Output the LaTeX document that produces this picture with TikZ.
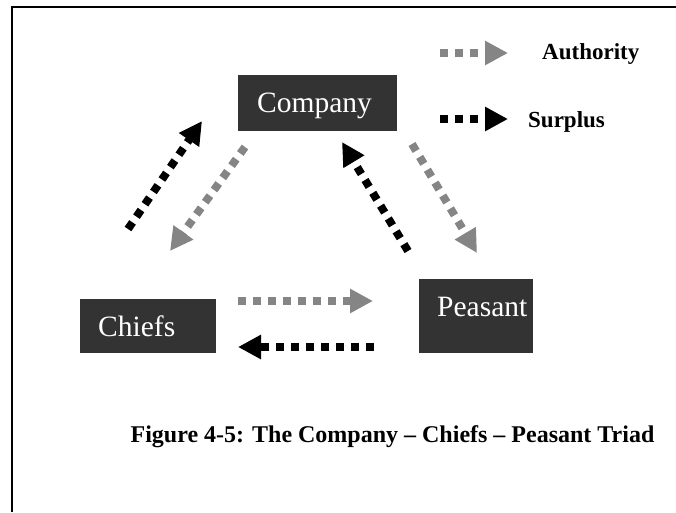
\documentclass[tikz,border=0pt]{standalone}
\usepackage{fontspec}
\setmainfont{Liberation Serif}
\usetikzlibrary{arrows.meta}
\definecolor{boxfill}{HTML}{333333}
\definecolor{authgray}{HTML}{858585}
\tikzset{
  box/.style={fill=boxfill, draw=none, inner sep=0pt},
  boxtext/.style={text=white, font=\fontsize{29.5}{32}\selectfont, inner sep=0pt, anchor=base west},
  flow/.style={line width=8pt, dash pattern=on 8pt off 7pt, line cap=butt,
    -{Triangle[length=23pt,width=23pt]}},
  authority/.style={flow, draw=authgray},
  surplus/.style={flow, draw=black},
  legtext/.style={font=\bfseries\fontsize{23}{26}\selectfont, inner sep=0pt, anchor=base west},
}
\begin{document}
\begin{tikzpicture}[x=1pt,y=-1pt]
\useasboundingbox (0,0) rectangle (676,512);
% frame (top and left only)
\draw[line width=1.6pt] (676,7) -- (12,7) -- (12,512);

% boxes
\node[box, minimum width=159pt, minimum height=56pt] (company) at (317.5,103) {};
\node[boxtext] (companytxt) at (257,112) {Company};
\node[box, minimum width=114pt, minimum height=74pt] (peasant) at (476,316) {};
\node[boxtext] (peasanttxt) at (437,316) {Peasant};
\node[box, minimum width=136pt, minimum height=54pt] (chiefs) at (148,326) {};
\node[boxtext] (chiefstxt) at (98,336) {Chiefs};

% arrow end points
\coordinate (s1) at (128,229);  \coordinate (e1) at (202,121);
\coordinate (s2) at (245,147);  \coordinate (e2) at (170,251);
\coordinate (s3) at (408,251);  \coordinate (e3) at (342,142);
\coordinate (s4) at (412,144);  \coordinate (e4) at (477,253);
\coordinate (s5) at (238,301);  \coordinate (e5) at (373,301);
\coordinate (s6) at (374,347);  \coordinate (e6) at (238,347);

\draw[surplus] (s1) -- (e1);
\draw[authority] (s2) -- (e2);
\draw[surplus] (s3) -- (e3);
\draw[authority] (s4) -- (e4);
\draw[authority] (s5) -- (e5);
\draw[surplus] (s6) -- (e6);

% legend
\coordinate (la1) at (440,53);  \coordinate (la2) at (508,53);
\coordinate (lb1) at (440,119); \coordinate (lb2) at (508,119);
\draw[authority] (la1) -- (la2);
\draw[surplus] (lb1) -- (lb2);
\node[legtext] (auth) at (542,59) {Authority};
\node[legtext] (surp) at (528,127) {Surplus};

% caption
\node[font=\bfseries\fontsize{24}{28}\selectfont, inner sep=0pt, anchor=base] (caption) at (392.5,442)
  {Figure 4-5: The Company -- Chiefs -- Peasant Triad};
\end{tikzpicture}
\end{document}
